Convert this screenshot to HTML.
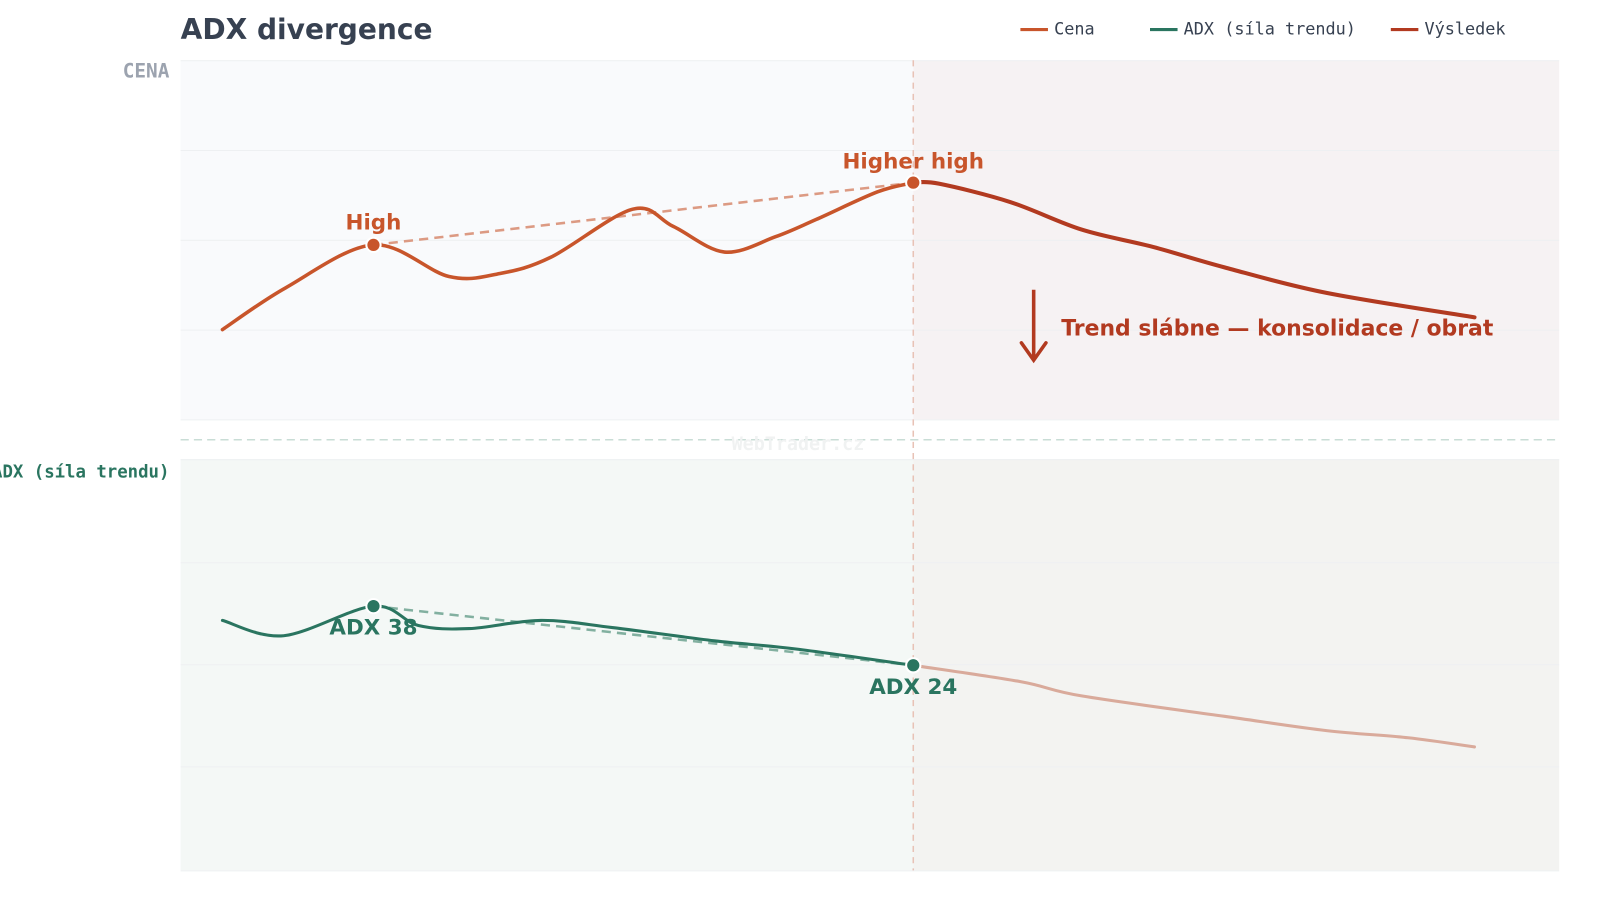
<!DOCTYPE html>
<html><head><meta charset="utf-8"><style>
html,body{margin:0;padding:0;background:#fff;width:1600px;height:900px;overflow:hidden}
svg{display:block}
text{font-family:"DejaVu Sans","Liberation Sans",sans-serif}
text.mono,.mono text{font-family:"DejaVu Sans Mono","Liberation Mono",monospace}
</style></head><body>
<svg id="s" width="1600" height="900" viewBox="0 0 1568 882">
<rect x="177" y="59" width="718" height="352" fill="#f9fafc"/>
<rect x="895" y="59" width="633" height="352" fill="#f6f2f3"/>
<rect x="177" y="450" width="718" height="403" fill="#f4f8f6"/>
<rect x="895" y="450" width="633" height="403" fill="#f3f3f1"/>
<g stroke="#eef0f2" stroke-width="1">
<line x1="177" x2="1528" y1="59.5" y2="59.5"/><line x1="177" x2="1528" y1="147.5" y2="147.5"/>
<line x1="177" x2="1528" y1="235.5" y2="235.5"/><line x1="177" x2="1528" y1="323.5" y2="323.5"/>
<line x1="177" x2="1528" y1="411.5" y2="411.5"/>
<line x1="177" x2="1528" y1="450.5" y2="450.5"/><line x1="177" x2="1528" y1="551.5" y2="551.5"/>
<line x1="177" x2="1528" y1="651.5" y2="651.5"/><line x1="177" x2="1528" y1="751.5" y2="751.5"/>
<line x1="177" x2="1528" y1="853.5" y2="853.5"/>
</g>
<line x1="177" x2="1528" y1="431" y2="431" stroke="#c9ddd6" stroke-width="1.5" stroke-dasharray="8,5"/>
<text x="782" y="441" text-anchor="middle" class="mono" font-size="18" font-weight="bold" fill="#f0f2f2">WebTrader.cz</text>
<line x1="895" x2="895" y1="59" y2="853" stroke="#e8c2b6" stroke-width="1.5" stroke-dasharray="6,5"/>
<text x="177" y="38" font-size="27.5" font-weight="bold" fill="#374151">ADX divergence</text>
<text x="166" y="76" text-anchor="end" class="mono" font-size="19" font-weight="bold" fill="#9ca3af">CENA</text>
<text x="166" y="468" text-anchor="end" class="mono" font-size="17" font-weight="bold" fill="#2a7560">ADX (síla trendu)</text>
<g class="mono" font-size="16.5" fill="#374151">
<line x1="1000" x2="1027" y1="29" y2="29" stroke="#c8552b" stroke-width="3"/><text x="1033" y="34">Cena</text>
<line x1="1127" x2="1154" y1="29" y2="29" stroke="#2a7560" stroke-width="3"/><text x="1160" y="34">ADX (síla trendu)</text>
<line x1="1363" x2="1390" y1="29" y2="29" stroke="#b23a20" stroke-width="3"/><text x="1396" y="34">Výsledek</text>
</g>
<line x1="366" y1="240" x2="895" y2="179" stroke="#dc9a83" stroke-width="2.5" stroke-dasharray="9,6"/>
<line x1="366" y1="594" x2="895" y2="652" stroke="#82b0a0" stroke-width="2.5" stroke-dasharray="9,6"/>
<path id="p1" fill="none" stroke="#c8552b" stroke-width="3.5" stroke-linecap="round"/>
<path id="p2" fill="none" stroke="#b23a20" stroke-width="4" stroke-linecap="round"/>
<path id="p3" fill="none" stroke="#2a7560" stroke-width="3" stroke-linecap="round"/>
<path id="p4" fill="none" stroke="#d9aa9b" stroke-width="3" stroke-linecap="round"/>
<circle cx="366" cy="240" r="7" fill="#c8552b" stroke="#fff" stroke-width="2"/>
<circle cx="895" cy="179" r="7" fill="#c8552b" stroke="#fff" stroke-width="2"/>
<circle cx="366" cy="594" r="7" fill="#2a7560" stroke="#fff" stroke-width="2"/>
<circle cx="895" cy="652" r="7" fill="#2a7560" stroke="#fff" stroke-width="2"/>
<text x="366" y="225" text-anchor="middle" font-size="21" font-weight="bold" fill="#c8552b">High</text>
<text x="895" y="165" text-anchor="middle" font-size="21" font-weight="bold" fill="#c8552b">Higher high</text>
<text x="366" y="622" text-anchor="middle" font-size="21" font-weight="bold" fill="#2a7560">ADX 38</text>
<text x="895" y="680" text-anchor="middle" font-size="21" font-weight="bold" fill="#2a7560">ADX 24</text>
<line x1="1013" y1="284" x2="1013" y2="352" stroke="#b23a20" stroke-width="3.5"/>
<polyline points="1001,336 1013,353 1025,336" fill="none" stroke="#b23a20" stroke-width="3.5" stroke-linecap="round"/>
<text x="1040" y="329" font-size="21.5" font-weight="bold" fill="#b23a20">Trend slábne — konsolidace / obrat</text>
</svg>
<script>
function cr(p){let d="M"+p[0][0]+","+p[0][1];for(let i=0;i<p.length-1;i++){const a=p[i-1]||p[i],b=p[i],c=p[i+1],e=p[i+2]||c;d+=" C"+(b[0]+(c[0]-a[0])/6)+","+(b[1]+(c[1]-a[1])/6)+" "+(c[0]-(e[0]-b[0])/6)+","+(c[1]-(e[1]-b[1])/6)+" "+c[0]+","+c[1];}return d;}
document.getElementById("p1").setAttribute("d",cr([[218,323],[280,282],[366,240],[440,271],[490,268],[540,252],[620,205],[660,222],[710,247],[760,232],[800,215],[860,188],[895,179]]));
document.getElementById("p2").setAttribute("d",cr([[895,179],[920,180],[990,198],[1060,225],[1130,242],[1200,262],[1300,287],[1445,311]]));
document.getElementById("p3").setAttribute("d",cr([[218,608],[278,623],[366,594],[410,613],[460,616],[530,608],[600,615],[700,628],[780,636],[895,652]]));
document.getElementById("p4").setAttribute("d",cr([[895,652],[1000,668],[1060,682],[1200,702],[1300,716],[1380,723],[1445,732]]));
</script>
</body></html>
